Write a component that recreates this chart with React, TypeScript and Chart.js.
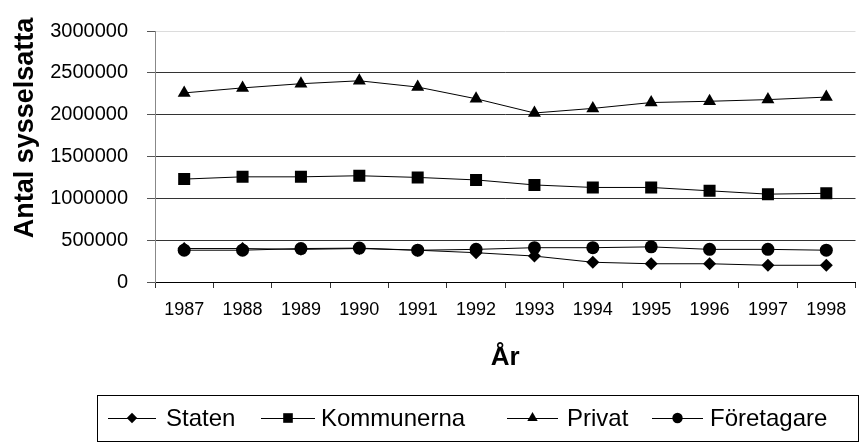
import React, { useEffect, useRef } from 'react';
import { Chart, registerables } from 'chart.js';

Chart.register(...registerables);

const years = ['1987', '1988', '1989', '1990', '1991', '1992', '1993', '1994', '1995', '1996', '1997', '1998'];
const staten = [400000, 400000, 390000, 400000, 380000, 350000, 310000, 236000, 218000, 218000, 200000, 200000];
const kommunerna = [1230000, 1257000, 1257000, 1270000, 1250000, 1220000, 1160000, 1130000, 1130000, 1090000, 1050000, 1060000];
const privat = [2260000, 2320000, 2370000, 2405000, 2330000, 2190000, 2020000, 2075000, 2145000, 2160000, 2180000, 2210000];
const foretagare = [380000, 380000, 400000, 405000, 380000, 390000, 410000, 410000, 420000, 390000, 390000, 380000];
const seriesLabels = ['Staten', 'Kommunerna', 'Privat', 'Företagare'];
const yTitle = 'Antal sysselsatta';
const xTitle = 'År';
const yMin = 0;
const yMax = 3000000;
const yStep = 500000;

const FONT = "'Liberation Sans', Arial, Helvetica, sans-serif";

function drawMarker(ctx: CanvasRenderingContext2D, style: string, x: number, y: number, r: number) {
  ctx.beginPath();
  if (style === 'rectRot') {
    ctx.moveTo(x - r, y);
    ctx.lineTo(x, y - r);
    ctx.lineTo(x + r, y);
    ctx.lineTo(x, y + r);
    ctx.closePath();
  } else if (style === 'rect') {
    const s = r * Math.SQRT1_2;
    ctx.rect(x - s, y - s, 2 * s, 2 * s);
  } else if (style === 'triangle') {
    ctx.moveTo(x, y - r);
    ctx.lineTo(x + r * Math.sin((2 * Math.PI) / 3), y + r / 2);
    ctx.lineTo(x - r * Math.sin((2 * Math.PI) / 3), y + r / 2);
    ctx.closePath();
  } else {
    ctx.arc(x, y, r, 0, Math.PI * 2);
  }
  ctx.fill();
}

const yTitlePlugin = {
  id: 'yTitlePlugin',
  afterDraw(chart: any) {
    const ctx = chart.ctx as CanvasRenderingContext2D;
    ctx.save();
    ctx.translate(33, 128);
    ctx.rotate(-Math.PI / 2);
    ctx.font = `bold 27px ${FONT}`;
    ctx.fillStyle = '#000';
    ctx.textAlign = 'center';
    ctx.textBaseline = 'alphabetic';
    ctx.fillText(yTitle, 0, 0);
    ctx.restore();
  },
};

const legendLayout = [
  { lineStart: 108, lineEnd: 156, textX: 166 },
  { lineStart: 261, lineEnd: 315, textX: 321 },
  { lineStart: 507, lineEnd: 558, textX: 567 },
  { lineStart: 652, lineEnd: 703, textX: 710 },
];

const boxLegendPlugin = {
  id: 'boxLegendPlugin',
  afterDraw(chart: any) {
    const ctx = chart.ctx as CanvasRenderingContext2D;
    ctx.save();
    ctx.strokeStyle = '#000';
    ctx.lineWidth = 1;
    ctx.strokeRect(97.5, 395.5, 761, 46);
    const cy = 418;
    ctx.font = `24px ${FONT}`;
    ctx.textAlign = 'left';
    ctx.textBaseline = 'middle';
    chart.data.datasets.forEach((ds: any, i: number) => {
      const lay = legendLayout[i];
      ctx.strokeStyle = '#000';
      ctx.lineWidth = 1;
      ctx.beginPath();
      ctx.moveTo(lay.lineStart, cy + 0.5);
      ctx.lineTo(lay.lineEnd, cy + 0.5);
      ctx.stroke();
      ctx.fillStyle = '#000';
      drawMarker(ctx, ds.pointStyle, (lay.lineStart + lay.lineEnd) / 2, cy, ds.pointRadius * 0.8);
      ctx.fillText(ds.label, lay.textX, cy + 1);
    });
    ctx.restore();
  },
};

export default function App() {
  const canvasRef = useRef<HTMLCanvasElement | null>(null);

  useEffect(() => {
    if (!canvasRef.current) return;
    Chart.defaults.font.family = FONT;
    const mk = (label: string, data: number[], pointStyle: string, pointRadius: number, order: number) => ({
      label,
      data,
      pointStyle,
      pointRadius,
      pointHoverRadius: pointRadius,
      borderColor: '#000',
      backgroundColor: '#000',
      pointBackgroundColor: '#000',
      pointBorderColor: '#000',
      pointBorderWidth: 0,
      borderWidth: 1,
      tension: 0,
      fill: false,
      order,
    });
    const chart = new Chart(canvasRef.current, {
      type: 'line',
      data: {
        labels: years,
        datasets: [
          mk(seriesLabels[0], staten, 'rectRot', 6.5, 4),
          mk(seriesLabels[1], kommunerna, 'rect', 8.5, 3),
          mk(seriesLabels[2], privat, 'triangle', 7.5, 2),
          mk(seriesLabels[3], foretagare, 'circle', 6.5, 1),
        ] as any,
      },
      options: {
        responsive: false,
        animation: false,
        layout: { padding: { left: 50, right: 0, top: 25, bottom: 62 } },
        plugins: {
          legend: { display: false },
          tooltip: { enabled: false },
        },
        scales: {
          x: {
            type: 'category',
            offset: true,
            grid: { offset: true, drawOnChartArea: false, drawTicks: true, tickLength: 6, color: '#333' },
            border: { color: '#000', width: 1 },
            ticks: { font: { size: 18 }, color: '#000', padding: 11, maxRotation: 0, autoSkip: false },
            title: {
              display: true,
              text: xTitle,
              font: { size: 26, weight: 'bold' },
              color: '#000',
              padding: { top: 0, bottom: 9 },
            },
            afterFit: (s: any) => {
              s.height = 100;
            },
          } as any,
          y: {
            min: yMin,
            max: yMax,
            ticks: {
              stepSize: yStep,
              font: { size: 20 },
              color: '#000',
              padding: 19,
              callback: (v: any) => String(v),
            },
            grid: {
              color: (c: any) => (c.tick && c.tick.value === yMax ? '#dcdcdc' : '#333'),
              tickColor: '#555',
              tickLength: 8,
            },
            border: { color: '#888', width: 1 },
            afterFit: (s: any) => {
              s.width = 105;
            },
          } as any,
        },
      },
      plugins: [yTitlePlugin, boxLegendPlugin],
    });
    return () => chart.destroy();
  }, []);

  return (
    <div
      style={{
        position: 'fixed',
        left: 0,
        top: 0,
        width: 860,
        height: 444,
        overflow: 'hidden',
        background: '#fff',
      }}
    >
      <canvas ref={canvasRef} width={864} height={444} style={{ width: 864, height: 444, display: 'block' }} />
    </div>
  );
}
